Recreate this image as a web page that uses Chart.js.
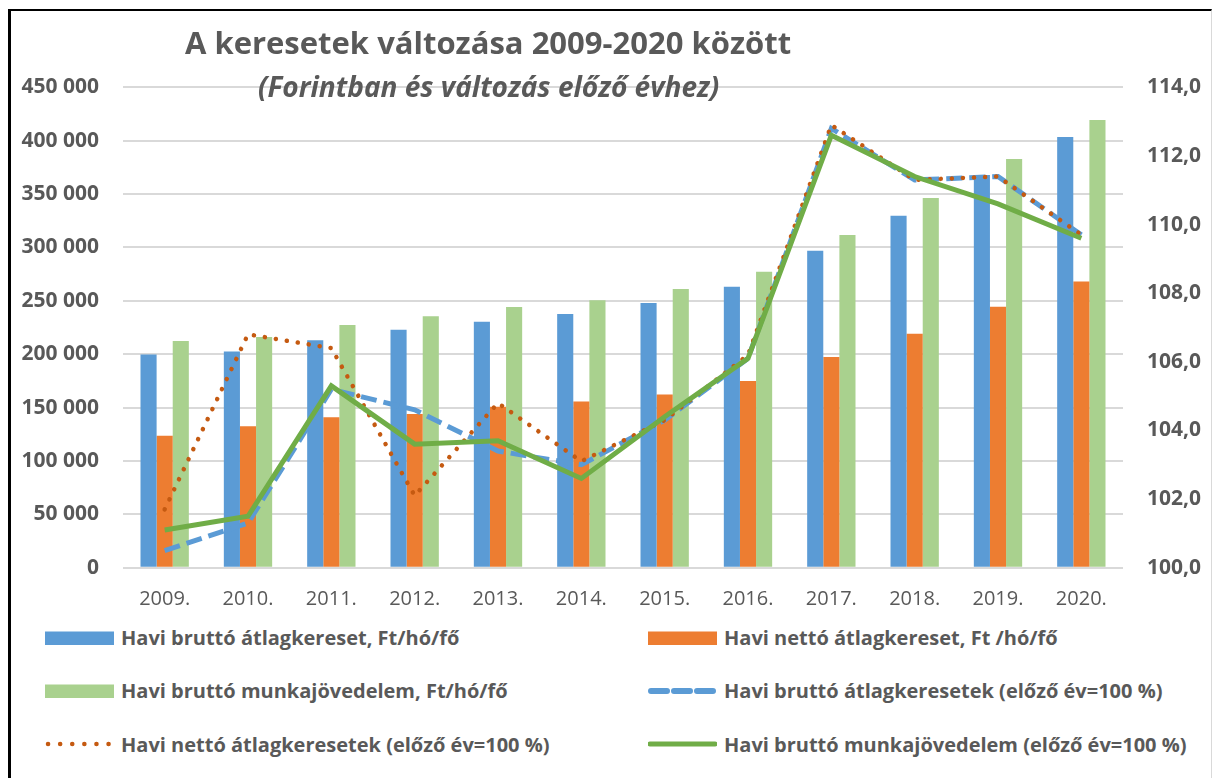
<!DOCTYPE html>
<html lang="hu">
<head>
<meta charset="utf-8">
<title>A keresetek változása 2009-2020 között</title>
<script src="https://cdn.jsdelivr.net/npm/chart.js@4.4.1/dist/chart.umd.min.js"></script>
<style>
    body { margin: 0; background: #fff; font-family: 'Open Sans', sans-serif; color: #595959; }
    #frame { position: absolute; left: 8px; top: 9px; width: 1200px; height: 800px;
             border-left: 3px solid #000; border-top: 2px solid #000; border-right: 1px solid #d9d9d9; }
    #wrap { position: absolute; left: 0; top: 0; width: 1214px; height: 620px; }
    #kereset { display: block; }
    .title { position: absolute; white-space: nowrap; font-weight: 700; color: #595959; }
    #title { left: 185px; top: 27px; font-size: 31px; line-height: 31px; }
    #subtitle { left: 258px; top: 72px; font-size: 28px; line-height: 28px; font-style: italic; }
    .legend-item { position: absolute; display: flex; align-items: center; height: 26px;
                   font-size: 20px; font-weight: 700; white-space: nowrap; }
    .legend-item svg { margin-right: 7px; }
</style>
</head>
<body>
<div id="frame"></div>
<div id="wrap"><canvas id="kereset" width="1214" height="620"></canvas></div>
<div class="title" id="title">A keresetek változása 2009-2020 között</div>
<div class="title" id="subtitle">(Forintban és változás előző évhez)</div>
<div id="legend"></div>
<script>
// Évek
const years = ['2009.', '2010.', '2011.', '2012.', '2013.', '2014.', '2015.', '2016.', '2017.', '2018.', '2019.', '2020.'];

// Forint értékek (bal tengely)
const bruttoAtlag = [199800, 202500, 213100, 222900, 230500, 237600, 247900, 263100, 296900, 329700, 367800, 403400];
const nettoAtlag = [123700, 132500, 141000, 144000, 150800, 155600, 162300, 175000, 197400, 219100, 244400, 268100];
const bruttoMunkajov = [212300, 216100, 227300, 235500, 244200, 250500, 261100, 277300, 311700, 346300, 382800, 419400];

// Előző év = 100 (jobb tengely)
const bruttoIndex = [100.5, 101.3, 105.2, 104.6, 103.4, 103.0, 104.3, 106.1, 112.8, 111.3, 111.4, 109.7];
const nettoIndex = [101.7, 106.8, 106.4, 102.1, 104.8, 103.1, 104.3, 106.2, 112.9, 111.3, 111.4, 109.7];
const munkajovIndex = [101.1, 101.5, 105.3, 103.6, 103.7, 102.6, 104.4, 106.1, 112.6, 111.4, 110.6, 109.6];

// Tengely beosztások
const leftTicks = { min: 0, max: 450000, step: 50000 };
const rightTicks = { min: 100, max: 114, step: 2 };

const grey = '#595959';

function formatThousands(v) {
    return String(v).replace(/\B(?=(\d{3})+(?!\d))/g, ' ');
}

const ctx = document.getElementById('kereset').getContext('2d');
const chart = new Chart(ctx, {
    data: {
        labels: years,
        datasets: [
            {
                type: 'line',
                label: 'Havi bruttó munkajövedelem (előző év=100 %)',
                data: munkajovIndex,
                yAxisID: 'y2',
                borderColor: '#70ad47',
                borderWidth: 5,
                pointRadius: 0,
                fill: false,
                order: 0
            },
            {
                type: 'line',
                label: 'Havi nettó átlagkeresetek (előző év=100 %)',
                data: nettoIndex,
                yAxisID: 'y2',
                borderColor: '#c55a11',
                borderWidth: 4.5,
                borderDash: [0.1, 11],
                borderCapStyle: 'round',
                pointRadius: 0,
                fill: false,
                order: 1
            },
            {
                type: 'line',
                label: 'Havi bruttó átlagkeresetek (előző év=100 %)',
                data: bruttoIndex,
                yAxisID: 'y2',
                borderColor: '#5b9bd5',
                borderWidth: 5,
                borderDash: [16, 7],
                pointRadius: 0,
                fill: false,
                order: 2
            },
            {
                type: 'bar',
                label: 'Havi bruttó átlagkereset, Ft/hó/fő',
                data: bruttoAtlag,
                yAxisID: 'y',
                backgroundColor: '#5b9bd5',
                order: 3
            },
            {
                type: 'bar',
                label: 'Havi nettó átlagkereset, Ft /hó/fő',
                data: nettoAtlag,
                yAxisID: 'y',
                backgroundColor: '#ed7d31',
                order: 4
            },
            {
                type: 'bar',
                label: 'Havi bruttó munkajövedelem, Ft/hó/fő',
                data: bruttoMunkajov,
                yAxisID: 'y',
                backgroundColor: '#a9d18e',
                order: 5
            }
        ]
    },
    options: {
        responsive: false,
        animation: false,
        layout: { padding: { top: 87.3, left: 0, right: 0, bottom: 0 } },
        datasets: {
            bar: { categoryPercentage: 0.58, barPercentage: 1.0 }
        },
        plugins: {
            legend: { display: false },
            tooltip: { enabled: false },
            title: { display: false }
        },
        scales: {
            x: {
                grid: { display: false, drawTicks: false },
                border: { display: false },
                ticks: {
                    color: grey,
                    padding: 20,
                    font: { family: 'Open Sans', size: 20 }
                },
                afterFit: (scale) => { scale.height = 52.3; }
            },
            y: {
                position: 'left',
                min: leftTicks.min,
                max: leftTicks.max,
                grid: { color: '#d9d9d9', lineWidth: 2, drawTicks: false },
                border: { display: false },
                ticks: {
                    stepSize: leftTicks.step,
                    color: grey,
                    padding: 24,
                    font: { family: 'Open Sans', size: 21, weight: 'bold' },
                    callback: (v) => formatThousands(v)
                },
                afterFit: (scale) => { scale.width = 123; }
            },
            y2: {
                position: 'right',
                min: rightTicks.min,
                max: rightTicks.max,
                grid: { display: false, drawTicks: false },
                border: { display: false },
                ticks: {
                    stepSize: rightTicks.step,
                    color: grey,
                    padding: 24,
                    font: { family: 'Open Sans', size: 21, weight: 'bold' },
                    callback: (v) => v.toFixed(1).replace('.', ',')
                },
                afterFit: (scale) => { scale.width = 91; }
            }
        }
    }
});

// HTML jelmagyarázat, két oszlopban
const legendOrder = [
    { ds: 3, left: 45, cy: 637.5 },
    { ds: 4, left: 648, cy: 637.5 },
    { ds: 5, left: 45, cy: 690.5 },
    { ds: 2, left: 648, cy: 690.5 },
    { ds: 1, left: 45, cy: 744 },
    { ds: 0, left: 648, cy: 744 }
];

function swatchSvg(dataset) {
    const w = 69, h = 16;
    if (dataset.type === 'bar') {
        return `<svg width="${w}" height="${h}"><rect x="0" y="1.5" width="${w}" height="13.5" fill="${dataset.backgroundColor}"/></svg>`;
    }
    // pontozott vonal
    if (dataset.borderDash && dataset.borderDash[0] < 1) {
        return `<svg width="${w}" height="${h}"><line x1="3" y1="8" x2="${w - 3}" y2="8" stroke="${dataset.borderColor}" stroke-width="4.5" stroke-linecap="round" stroke-dasharray="0.1 12"/></svg>`;
    }
    // szaggatott vonal
    if (dataset.borderDash) {
        return `<svg width="${w}" height="${h}"><line x1="3" y1="8" x2="${w - 3}" y2="8" stroke="${dataset.borderColor}" stroke-width="6" stroke-linecap="round" stroke-dasharray="16 7"/></svg>`;
    }
    return `<svg width="${w}" height="${h}"><line x1="2" y1="8" x2="${w - 2}" y2="8" stroke="${dataset.borderColor}" stroke-width="5" stroke-linecap="round"/></svg>`;
}

const legendEl = document.getElementById('legend');
legendOrder.forEach(item => {
    const dataset = chart.data.datasets[item.ds];
    const div = document.createElement('div');
    div.className = 'legend-item';
    div.style.left = item.left + 'px';
    div.style.top = (item.cy - 13) + 'px';
    div.innerHTML = swatchSvg(dataset) + `<span>${dataset.label}</span>`;
    legendEl.appendChild(div);
});
</script>
</body>
</html>
